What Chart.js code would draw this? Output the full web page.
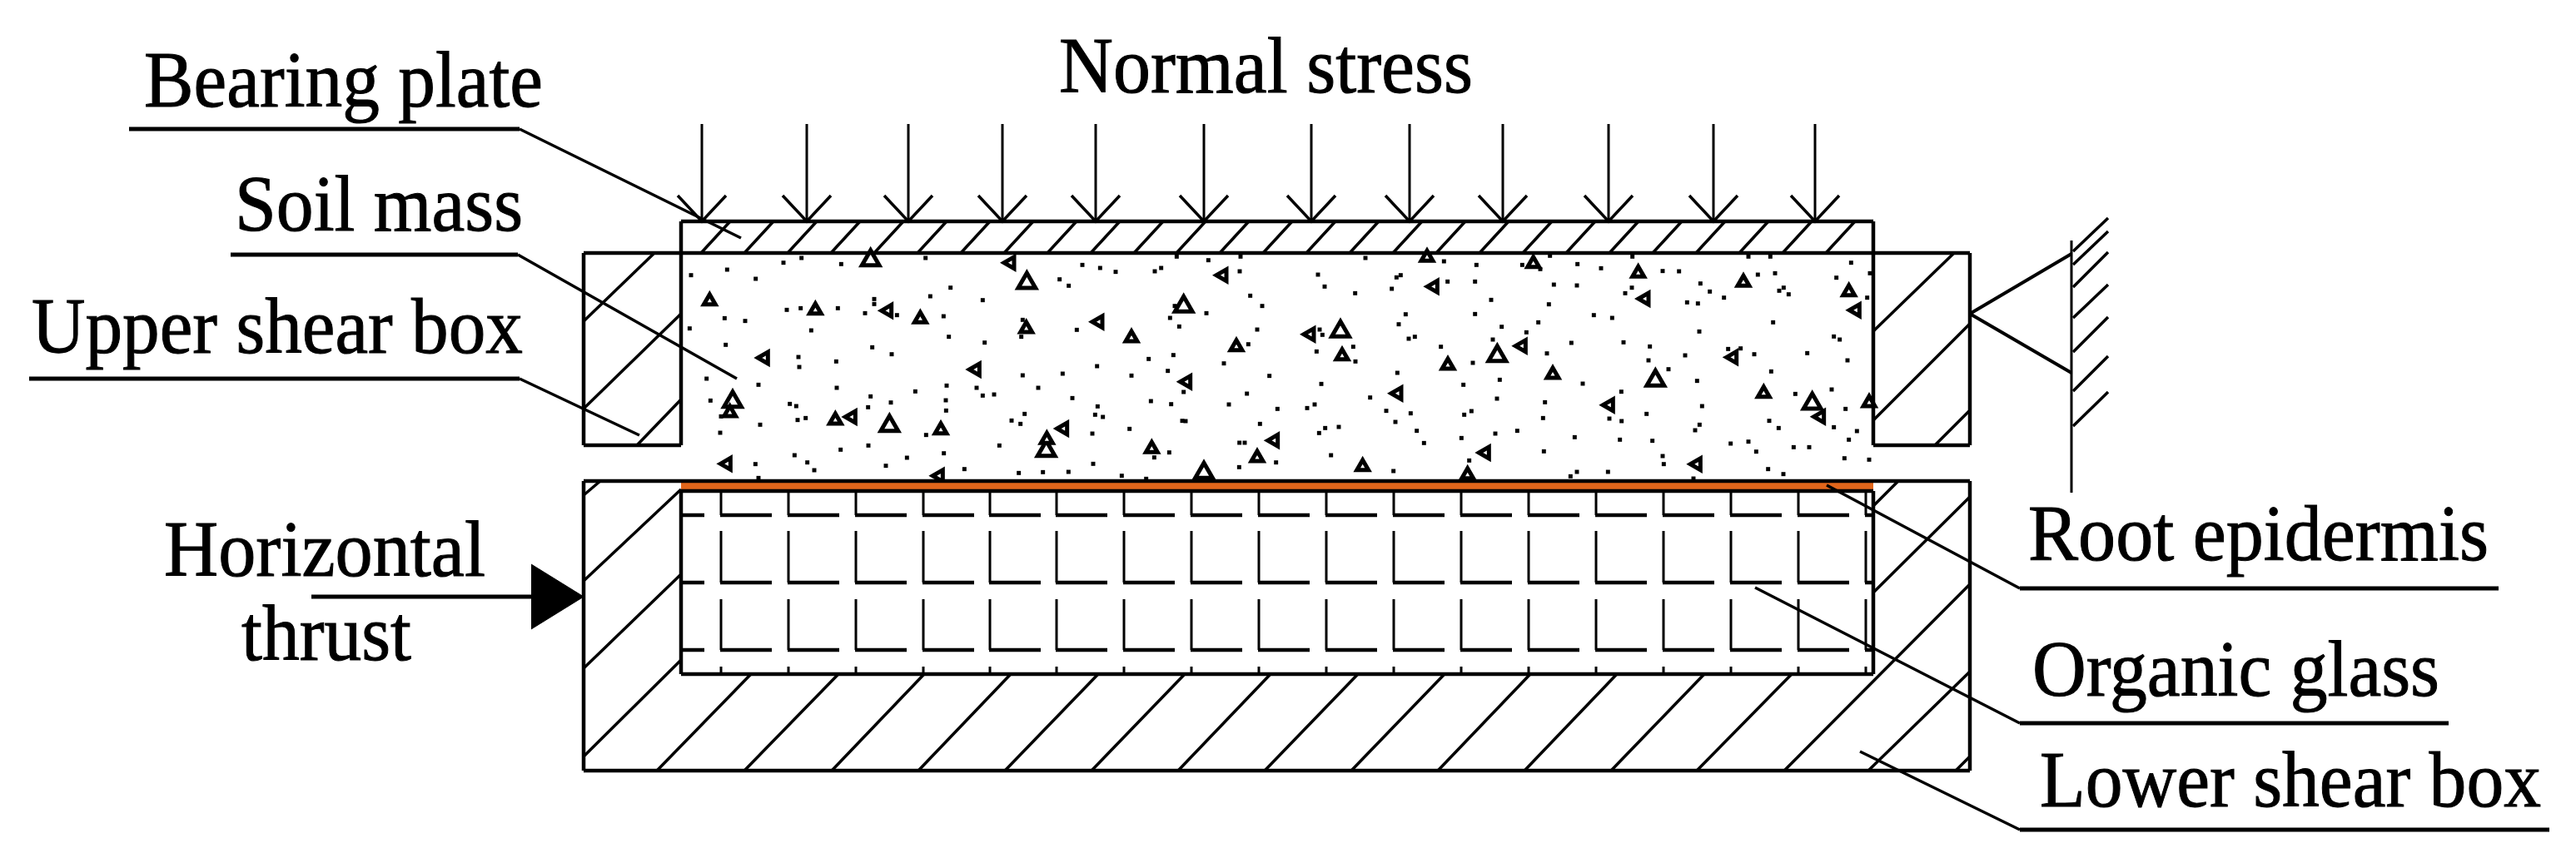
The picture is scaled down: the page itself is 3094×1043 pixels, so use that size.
<!DOCTYPE html>
<html><head><meta charset="utf-8">
<style>html,body{margin:0;padding:0;background:#fff}canvas{display:block;filter:blur(0.7px)}</style>
<script src="https://cdn.jsdelivr.net/npm/chart.js@4/dist/chart.umd.min.js"></script>
</head><body><canvas id="c" width="3094" height="1043"></canvas>
<script>
// ---- labels ----
const labelTexts = ["Bearing plate","Soil mass","Upper shear box","Horizontal","thrust","Normal stress","Root epidermis","Organic glass","Lower shear box"];
const labelLeft  = [173,282,38,197,290,1272,2436,2441,2450];
const labelRight = [652,628,628,583,494,1769,2989,2930,3052];
const labelBase  = [128,277,424,692,793,111,673,836,969];
// ---- leaders (x1,y1,x2,y2 per stretch) ----
const leaderRuns = [[155,155,624,155],[277,306,622,306],[35,455,624,455],[2426,707,3001,707],[2426,869,2941,869],[2426,997,3062,997]];
const leaderSlants = [[624,155,890,286],[622,306,885,455],[624,455,768,523],[2194,583,2426,707],[2108,706,2426,869],[2234,903,2426,997]];
// ---- normal stress arrows ----
const arrowX = [843,969,1091,1204,1316,1446,1575,1693,1805,1932,2058,2180];
// ---- bearing plate hatch (lower end x) ----
const plateHatchX = [842,894,946,998,1050,1102,1154,1206,1258,1310,1362,1413,1465,1517,1569,1621,1673,1725,1777,1829,1881,1933,1985,2037,2089,2141,2193];
// ---- box outlines ----
const boxOutlines = [[701,304,818,304],[818,304,818,535],[818,535,701,535],[701,535,701,304],
 [2250,304,2366,304],[2366,304,2366,535],[2366,535,2250,535],[2250,535,2250,304],
 [818,266,2250,266],[818,266,818,304],[2250,266,2250,304],[818,304,2250,304],
 [701,578,2366,578],[2366,578,2366,926],[2366,926,701,926],[701,926,701,578],
 [818,590,818,810],[818,810,2250,810],[2250,590,2250,810],[818,590,2250,590]];
// ---- hatches in the shear boxes ----
const boxHatches = [[786,304,701,386],[818,377,701,491],[818,480,765,535],
 [2347,304,2250,398],[2366,389,2250,505],[2366,493,2324,535],
 [721,578,701,595],[818,588,701,698],[818,690,701,803],[818,793,701,909],
 [2250,608,2279,579],[2250,712,2366,597],[2143,926,2366,702],[2244,926,2366,807],[2349,926,2366,909]];
const lowerHatchBottom = [789,894,999,1103,1207,1311,1415,1519,1623,1727,1831,1935,2038];
const lowerHatchTop    = [902,1007,1110,1214,1319,1423,1526,1631,1735,1838,1942,2047,2152];
// ---- support ----
const supportLines = [[2366,377,2488,305],[2366,377,2488,448],[2488,289,2488,592]];
const wallHatches = [[2532,262,2490,302],[2532,278,2490,318],[2532,303,2490,345],[2532,342,2490,382],[2532,381,2490,423],[2532,428,2490,470],[2532,471,2490,512]];
// ---- organic glass ----
const brickX = [866,947,1028,1109,1189,1269,1350,1431,1512,1593,1674,1755,1836,1917,1998,2079,2160,2241];
const brickFootY = [619,700,781];
const brickStemTop = [590,638,720];
// ---- root epidermis ----
const rootBand = [[818,584,2250,584]];
// ---- thrust arrow ----
const thrustShaft = [[374,717,640,717]];
const thrustUpper = [[638,678],[701,717]];
const thrustLower = [[638,756],[701,717]];
// ---- soil: dots and stones, read from three overlapping windows ----
const dotsA = [[60,92],[190,72],[293,105],[393,47],[458,30],[601,52],[905,30],[995,137],[922,168],[1111,182],[1388,107],[1421,130],[181,247],[255,257],[55,284],[405,217],[455,211],[589,211],[687,229],[720,178],[720,196],[802,236],[970,240],[493,291],[989,314],[1118,335],[1255,253],[1250,314],[185,343],[447,387],[450,423],[583,403],[713,352],[783,377],[1255,453],[1399,447],[116,465],[303,487],[585,498],[868,511],[981,490],[1089,498],[1111,526],[1152,522],[1311,498],[1434,535],[130,544],[416,556],[439,564],[707,529],[780,551],[698,568],[978,543],[979,580],[168,601],[444,614],[473,607],[1215,616],[1247,628],[1262,592],[309,631],[165,660],[907,668],[599,721],[699,706],[1171,706],[971,734],[433,741],[479,767],[504,795],[292,773],[838,750],[762,779],[1045,791],[1241,805],[1328,802],[1420,801],[303,823]];
const dotsB = [[30,55],[94,66],[150,80],[291,78],[314,66],[370,25],[484,38],[597,78],[600,25],[879,90],[903,133],[1013,157],[1050,30],[1162,100],[1177,92],[1145,141],[1333,42],[1346,115],[635,166],[678,203],[477,229],[346,246],[379,277],[363,203],[1195,233],[1170,269],[10,289],[660,288],[885,288],[895,307],[1206,321],[1228,314],[628,341],[1006,350],[874,367],[1322,350],[269,394],[358,380],[83,420],[540,410],[1014,403],[1437,408],[207,454],[338,437],[704,455],[1165,444],[891,484],[1403,487],[395,513],[623,519],[1067,533],[85,565],[277,546],[350,557],[558,558],[867,558],[840,571],[733,574],[1125,581],[1213,590],[76,595],[104,603],[1406,595],[1432,582],[390,617],[402,618],[670,628],[1158,621],[905,643],[954,639],[883,661],[200,646],[66,663],[1235,653],[596,696],[615,696],[1261,697],[1396,679],[343,731],[289,749],[926,741],[69,772],[728,767],[1424,760],[595,784],[1151,798],[172,815],[260,826]];
const dotsC = [[10,55],[175,55],[240,70],[275,22],[374,52],[459,67],[572,25],[681,77],[740,78],[990,25],[1069,25],[1024,90],[1086,85],[1360,47],[1307,101],[1428,85],[5,115],[289,126],[372,129],[817,122],[570,137],[546,157],[851,151],[902,173],[1117,137],[1101,148],[1135,161],[1418,173],[63,181],[271,197],[769,190],[808,194],[5,232],[433,236],[499,246],[233,262],[101,278],[1079,262],[190,298],[813,295],[69,324],[352,336],[540,334],[635,349],[1298,313],[1319,324],[917,358],[962,356],[264,374],[762,381],[630,399],[1011,377],[1202,373],[1347,399],[702,431],[1072,439],[94,469],[393,483],[805,473],[532,512],[1290,504],[1159,520],[84,537],[257,550],[250,607],[823,564],[623,592],[1340,574],[489,609],[533,618],[1065,617],[1099,643],[814,631],[798,651],[1298,640],[1381,654],[78,663],[157,653],[364,676],[527,685],[644,689],[926,699],[990,692],[1352,685],[253,727],[1018,728],[1153,712],[1209,712],[681,744],[685,773],[1336,752],[1425,757],[1061,791],[372,801],[484,801],[1116,809],[349,817],[792,825]];
const stonesUpA = [[127,185],[508,218],[886,250],[1268,285],[200,588],[580,615],[960,650],[1342,685]];
const stonesUpBigA = [[1270,120],[210,548],[775,635],[1340,725],[707,38]];
const stonesLeftA = [[1212,47],[770,220],[325,390],[1087,432],[640,603],[1403,645],[190,772],[955,815]];
const stonesUpB = [[207,318],[585,350],[966,383],[1347,417],[280,718],[660,750],[1040,782],[1418,812],[1272,28]];
const stonesUpBigB = [[395,205],[960,295],[468,805]];
const stonesLeftB = [[90,260],[537,92],[1297,133],[852,305],[407,476],[1167,518],[722,688]];
const stonesUpC = [[215,50],[593,85],[972,118],[1352,152],[285,450],[1045,518],[1425,552]];
const stonesUpBigC = [[85,383],[655,472],[1220,555]];
const stonesLeftC = [[618,177],[1378,218],[175,347],[935,388],[490,560],[1250,602],[43,732],[805,773]];

const windowX = {A:810,B:1290,C:1770}, windowY = 300, windowZoom = 3;
const inWindow = (list,k) => list.map(p => ({x:windowX[k]+p[0]/windowZoom, y:windowY+p[1]/windowZoom}));
const all = (a,b,c) => [...inWindow(a,'A'),...inWindow(b,'B'),...inWindow(c,'C')];

const gap = {x:null,y:null};
function segs(list){const o=[];list.forEach(s=>{for(let i=0;i+1<s.length;i+=2)o.push({x:s[i],y:s[i+1]});o.push(gap);});return o;}
function lineDs(data,w,color){return {data,showLine:true,spanGaps:false,borderColor:color||'#000',borderWidth:w,pointRadius:0,fill:false,borderCapStyle:'butt',borderJoinStyle:'miter',tension:0};}
function ptDs(data,style,r,opts){return Object.assign({data,showLine:false,pointStyle:style,pointRadius:r,pointBackgroundColor:'#000',pointBorderColor:'#000',pointBorderWidth:0},opts||{});}

const arrowSegs = arrowX.map(x=>[x,149,x,266]);
const arrowHeads = arrowX.map(x=>[x-29,235,x,266,x+29,235]);
const plateHatch = plateHatchX.map(x=>[x,304,x+35,266]);
const lowerHatch = lowerHatchBottom.map((x,i)=>[x,926,lowerHatchTop[i],810]);
const stems = [], feet = [];
brickX.forEach(x=>{
  brickFootY.forEach((y,i)=>{stems.push([x,brickStemTop[i],x,y]);feet.push([x-1,y,Math.min(x+61,2250),y]);});
  stems.push([x,801,x,810]);
});
brickFootY.forEach(y=>feet.push([818,y,846,y]));

const stone = {pointBackgroundColor:'#fff',pointBorderColor:'#000',pointBorderWidth:5};
const datasets = [
  lineDs(segs(leaderRuns),5),
  lineDs(segs(leaderSlants),3.5),
  lineDs(segs(arrowSegs),3),
  lineDs(segs(arrowHeads),3.5),
  lineDs(segs(boxOutlines),4.5),
  lineDs(segs(boxHatches),3.5),
  lineDs(segs(lowerHatch),3.5),
  lineDs(segs(plateHatch),3.5),
  lineDs(segs(supportLines.slice(0,2)),4),
  lineDs(segs(supportLines.slice(2)),3),
  lineDs(segs(wallHatches),3.5),
  lineDs(segs(stems),3),
  lineDs(segs(feet),4.5),
  lineDs(segs(thrustShaft),5),
  Object.assign(lineDs(thrustUpper.map(p=>({x:p[0],y:p[1]})),1),{fill:'+1',backgroundColor:'#000'}),
  lineDs(thrustLower.map(p=>({x:p[0],y:p[1]})),1),
  lineDs(segs(rootBand),9,'#E2661B'),
  ptDs(all(dotsA,dotsB,dotsC),'rect',3.5),
  ptDs(all(stonesUpA,stonesUpB,stonesUpC),'triangle',8,stone),
  ptDs(all(stonesUpBigA,stonesUpBigB,stonesUpBigC),'triangle',12,stone),
  ptDs(all(stonesLeftA,stonesLeftB,stonesLeftC),'triangle',8,Object.assign({pointRotation:-90},stone))
];

const labelPlugin = {id:'labelPlugin',afterDatasetsDraw(chart){
  const {ctx,scales:{x,y}} = chart;
  ctx.save();ctx.fillStyle='#000';ctx.strokeStyle='#000';ctx.lineWidth=1;ctx.font='95px "Liberation Serif"';ctx.textBaseline='alphabetic';ctx.textAlign='left';
  labelTexts.forEach((t,i)=>{
    const l=x.getPixelForValue(labelLeft[i]), r=x.getPixelForValue(labelRight[i]), b=y.getPixelForValue(labelBase[i]);
    const w=ctx.measureText(t).width;
    ctx.save();ctx.translate(l,b);ctx.scale((r-l)/w,1);ctx.fillText(t,0,0);ctx.strokeText(t,0,0);ctx.restore();
  });
  ctx.restore();
}};

new Chart(document.getElementById('c'),{
  type:'scatter',
  data:{datasets},
  options:{
    responsive:false,animation:false,devicePixelRatio:1,
    layout:{padding:0,autoPadding:false},
    plugins:{legend:{display:false},title:{display:false},tooltip:{enabled:false}},
    scales:{
      x:{type:'linear',min:0,max:3094,display:false},
      y:{type:'linear',min:0,max:1043,reverse:true,display:false}
    }
  },
  plugins:[labelPlugin]
});
</script></body></html>
